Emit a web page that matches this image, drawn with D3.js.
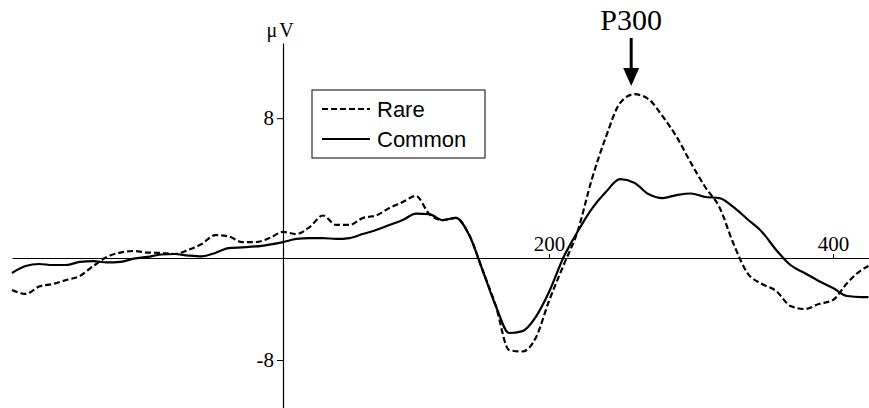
<!DOCTYPE html>
<html lang="en">
<head>
  <meta charset="UTF-8">
  <title>ERP - Rare vs Common</title>
  <script src="https://d3js.org/d3.v7.min.js"></script>
  <style>
    body { margin: 0; background: #fff; }
  </style>
</head>
<body>
  <div id="chart"></div>

  <script>
    // time points (ms), shared by both waves
    const timeMs = [-200, -190, -180, -170, -160, -150, -140, -130, -120, -110,
      -100, -90, -80, -70, -60, -50, -40, -30, -20, -10,
      0, 10, 20, 30, 40, 50, 60, 70, 80, 90,
      100, 110, 120, 130, 140, 150, 160, 170, 180, 190,
      200, 210, 220, 230, 240, 250, 260, 270, 280, 290,
      300, 310, 320, 330, 340, 350, 360, 370, 380, 390,
      400, 410, 420, 425];

    // amplitude (µV)
    const rare = [-2.51, -2.82, -2.24, -2.04, -1.73, -1.41, -0.63, 0.06, 0.31, 0.4,
      0.31, 0.29, 0.23, 0.46, 0.8, 1.31, 1.23, 0.91, 0.91, 1.14,
      1.49, 1.37, 1.77, 2.43, 1.89, 1.89, 2.29, 2.43, 2.86, 3.2,
      3.55, 2.51, 2.17, 2.29, 1.31, -0.94, -3.76, -7.22, -7.33, -6.27,
      -3.37, -0.63, 1.49, 4.46, 6.91, 8.86, 9.37, 9.09, 8.11, 6.91,
      5.43, 4.06, 2.91, 0.8, -1.22, -2.04, -2.59, -3.76, -4.0, -3.61,
      -3.29, -1.96, -0.94, -0.63];

    const common = [-1.18, -0.63, -0.47, -0.55, -0.55, -0.31, -0.24, -0.35, -0.31, -0.05,
      0.06, 0.2, 0.23, 0.14, 0.09, 0.29, 0.57, 0.61, 0.66, 0.77,
      0.91, 1.09, 1.14, 1.14, 1.09, 1.14, 1.37, 1.6, 1.89, 2.17,
      2.54, 2.51, 2.17, 2.29, 1.31, -0.94, -3.76, -5.88, -5.73, -4.63,
      -2.67, 0, 1.49, 2.8, 3.77, 4.51, 4.31, 3.66, 3.43, 3.6,
      3.69, 3.49, 3.43, 2.91, 2.2, 1.49, 0.46, -0.55, -1.18, -1.8,
      -2.35, -2.98, -3.06, -3.06];

    const xTicks = [200, 400];
    const yTicks = [-8, 8];
    const seriesNames = ["Rare", "Common"];

    const width = 869, height = 408;
    const serif = "Liberation Serif, Times New Roman, serif";

    const svg = d3.select("#chart")
      .append("svg")
      .attr("width", width)
      .attr("height", height);

    // the printed axes are not evenly spaced, so piecewise scales
    const x = d3.scaleLinear()
      .domain([-200, 0, 200, 425])
      .range([12, 283, 549, 868.5]);

    const y = d3.scaleLinear()
      .domain([-11.76, 0, 12.3])
      .range([408, 258, 43]);

    // x axis (ticks point up, labels above the line)
    const xAxis = svg.append("g")
      .attr("transform", "translate(0," + y(0) + ")")
      .call(d3.axisTop(x).tickValues(xTicks).tickSizeInner(4).tickSizeOuter(0).tickPadding(3));
    xAxis.select(".domain").attr("stroke", "#000").attr("stroke-width", 1.2);
    xAxis.selectAll(".tick line").attr("stroke", "#000");
    xAxis.selectAll(".tick text")
      .attr("font-family", serif)
      .attr("font-size", 21)
      .attr("fill", "#000");

    // y axis through t = 0
    const yAxis = svg.append("g")
      .attr("transform", "translate(" + x(0) + ",0)")
      .call(d3.axisLeft(y).tickValues(yTicks).tickSizeInner(6).tickSizeOuter(0).tickPadding(3)
        .tickFormat(d => String(d)));
    yAxis.select(".domain").attr("stroke", "#000").attr("stroke-width", 1.2);
    yAxis.selectAll(".tick line").attr("stroke", "#000");
    yAxis.selectAll(".tick text")
      .attr("font-family", serif)
      .attr("font-size", 21)
      .attr("fill", "#000");

    svg.append("text")
      .attr("x", x(0) - 2)
      .attr("y", 37)
      .attr("text-anchor", "middle")
      .attr("font-family", serif)
      .attr("font-size", 20)
      .attr("letter-spacing", 2)
      .text("μV");

    // waves
    const line = d3.line()
      .x((d, i) => x(timeMs[i]))
      .y(d => y(d))
      .curve(d3.curveMonotoneX);

    svg.append("path")
      .datum(common)
      .attr("d", line)
      .attr("fill", "none")
      .attr("stroke", "#000")
      .attr("stroke-width", 2.2);

    svg.append("path")
      .datum(rare)
      .attr("d", line)
      .attr("fill", "none")
      .attr("stroke", "#000")
      .attr("stroke-width", 2.2)
      .attr("stroke-dasharray", "6,3");

    // P300 label and arrow at the rare peak
    const peakT = 260;
    const ax = x(peakT) - 3;
    svg.append("text")
      .attr("x", ax)
      .attr("y", 30)
      .attr("text-anchor", "middle")
      .attr("font-family", serif)
      .attr("font-size", 30)
      .text("P300");

    svg.append("line")
      .attr("x1", ax).attr("x2", ax)
      .attr("y1", 38).attr("y2", 72)
      .attr("stroke", "#000")
      .attr("stroke-width", 3);
    svg.append("path")
      .attr("d", "M" + (ax - 8) + ",68 L" + (ax + 8) + ",68 L" + ax + ",86 Z")
      .attr("fill", "#000");

    // legend
    const legend = svg.append("g").attr("transform", "translate(312,90)");
    legend.append("rect")
      .attr("width", 173)
      .attr("height", 68)
      .attr("fill", "#fff")
      .attr("stroke", "#000")
      .attr("stroke-width", 1);

    seriesNames.forEach((name, i) => {
      const ly = 19 + i * 30;
      legend.append("line")
        .attr("x1", 10).attr("x2", 58)
        .attr("y1", ly).attr("y2", ly)
        .attr("stroke", "#000")
        .attr("stroke-width", 2)
        .attr("stroke-dasharray", name === "Rare" ? "6,3" : null);
      legend.append("text")
        .attr("x", 65)
        .attr("y", ly + 8)
        .attr("font-family", "Liberation Sans, Arial, sans-serif")
        .attr("font-size", 22)
        .text(name);
    });
  </script>
</body>
</html>
